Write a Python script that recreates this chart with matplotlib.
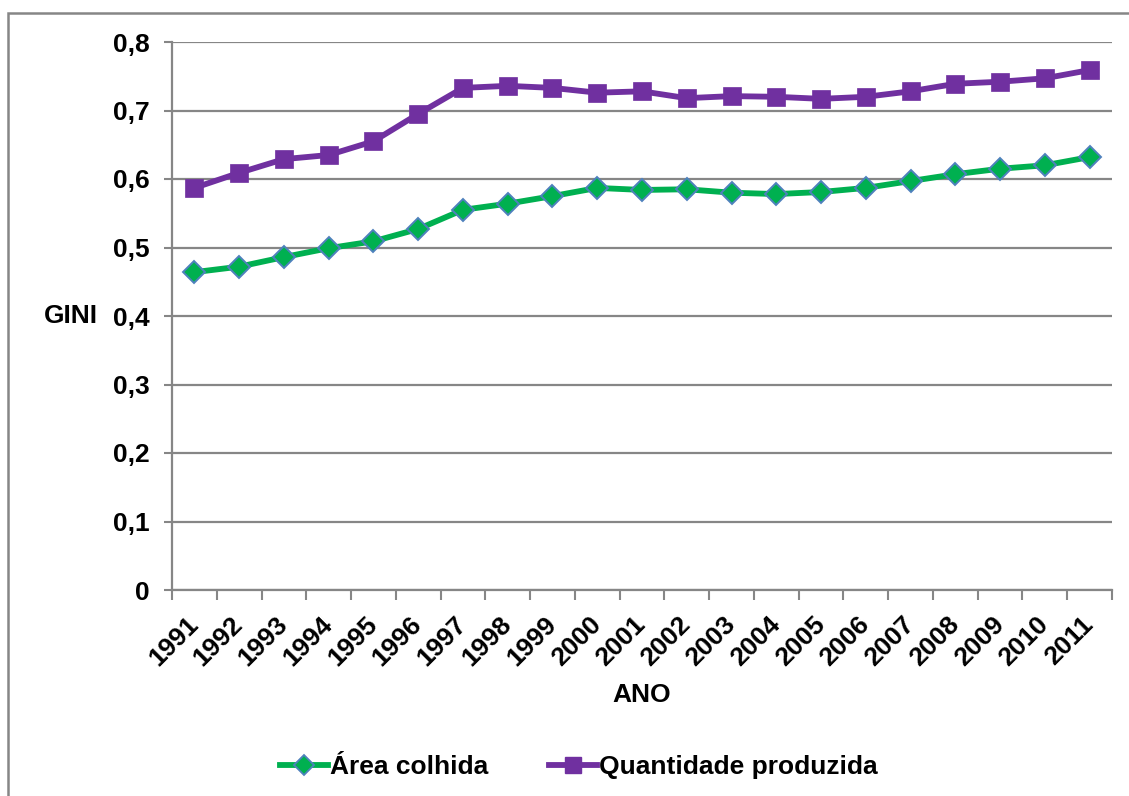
import matplotlib
matplotlib.use("Agg")
import matplotlib.pyplot as plt
from matplotlib.lines import Line2D
from matplotlib.patches import Rectangle
import numpy as np

plt.rcParams['font.family'] = ['Liberation Sans', 'DejaVu Sans']
plt.rcParams['font.weight'] = 'bold'

anos = [str(a) for a in range(1991, 2012)]
area_colhida = [0.464, 0.472, 0.486, 0.499, 0.509, 0.527, 0.555, 0.564, 0.575, 0.587,
                0.584, 0.585, 0.580, 0.578, 0.581, 0.587, 0.597, 0.607, 0.615, 0.620, 0.632]
quantidade_produzida = [0.587, 0.609, 0.629, 0.635, 0.655, 0.695, 0.733, 0.736, 0.733, 0.726,
                        0.728, 0.718, 0.721, 0.720, 0.717, 0.720, 0.728, 0.739, 0.742, 0.747, 0.759]
yticks = [0, 0.1, 0.2, 0.3, 0.4, 0.5, 0.6, 0.7, 0.8]
ytick_labels = ['0', '0,1', '0,2', '0,3', '0,4', '0,5', '0,6', '0,7', '0,8']

GREEN = '#00B050'
PURPLE = '#7030A0'
EDGE_BLUE = '#4F81BD'
GRAY = '#868686'
FS = 19

fig = plt.figure(figsize=(11.29, 7.96), dpi=100)
ax = fig.add_axes([172/1129, 1-590/796, (1112-172)/1129, (590-42)/796])

x = np.arange(len(anos))
ax.plot(x, area_colhida, color=GREEN, lw=4.2, marker='D', ms=11.5,
        mfc=GREEN, mec=EDGE_BLUE, mew=1.4, zorder=3)
ax.plot(x, quantidade_produzida, color=PURPLE, lw=4.2, marker='s', ms=12.5,
        mfc=PURPLE, mec=PURPLE, mew=0.5, zorder=3)

ax.set_xlim(-0.5, len(anos) - 0.5)
ax.set_ylim(0, 0.8)

# y axis
ax.set_yticks(yticks)
ax.set_yticklabels(ytick_labels, fontsize=FS, fontweight='bold')
ax.tick_params(axis='y', length=6, width=1.5, color=GRAY, pad=10)
ax.yaxis.grid(True, color=GRAY, lw=1.6)
ax.set_axisbelow(True)

# x axis: labels at category centres, tick marks at boundaries
ax.set_xticks(x)
ax.set_xticklabels(anos, fontsize=FS, fontweight='bold', rotation=45,
                   ha='right', va='center', rotation_mode='anchor')
ax.tick_params(axis='x', which='major', length=0, pad=22)
ax.set_xticks(np.arange(-0.5, len(anos)), minor=True)
ax.tick_params(axis='x', which='minor', length=7, width=1.5, color=GRAY)

for side in ['top', 'right']:
    ax.spines[side].set_visible(False)
for side in ['left', 'bottom']:
    ax.spines[side].set_color(GRAY)
    ax.spines[side].set_linewidth(1.6)

ax.set_ylabel('GINI', rotation=0, fontsize=FS, fontweight='bold', ha='center', va='center')
ax.yaxis.set_label_coords((71-172)/940, 0.5)
ax.set_xlabel('ANO', fontsize=FS, fontweight='bold', va='center')
ax.xaxis.set_label_coords(0.5, (590-695)/548)

handles = [
    Line2D([], [], color=GREEN, lw=4.2, marker='D', ms=10, mfc=GREEN, mec=EDGE_BLUE, mew=1.3),
    Line2D([], [], color=PURPLE, lw=4.2, marker='s', ms=11, mfc=PURPLE, mec=PURPLE),
]
fig.legend(handles, ['Área colhida', 'Quantidade produzida'], loc='center',
           bbox_to_anchor=(579/1129, 1-767/796), ncol=2, frameon=False,
           prop={'size': FS, 'weight': 'bold'}, handlelength=1.8,
           handletextpad=0.1, columnspacing=2.3)

# chart-area border
fig.add_artist(Rectangle((8/1129, -0.1), 1.2, 1.1 - 13/796, transform=fig.transFigure,
                         fill=False, edgecolor=GRAY, lw=1.8, clip_on=False))

fig.savefig('out.png', dpi=100, facecolor='white')
